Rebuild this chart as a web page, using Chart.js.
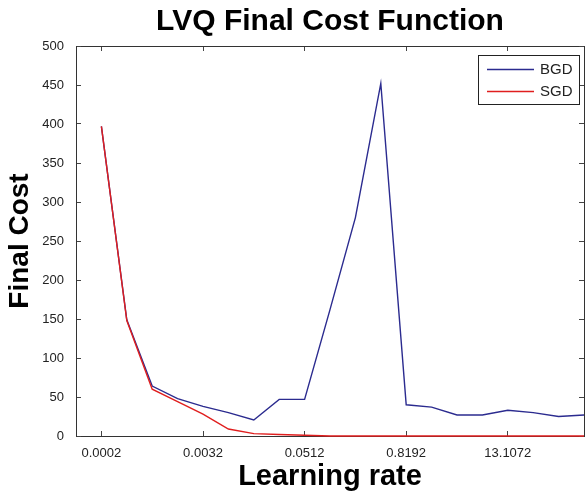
<!DOCTYPE html>
<html>
<head>
<meta charset="utf-8">
<script src="https://cdn.jsdelivr.net/npm/chart.js@4.4.0/dist/chart.umd.min.js"></script>
<style>
  html, body { margin: 0; padding: 0; background: #fff; }
</style>
</head>
<body>
<canvas id="lvq" width="586" height="491"></canvas>
<script>
// Learning rates tried (each one doubles the previous)
const learningRates = [0.0002, 0.0004, 0.0008, 0.0016, 0.0032, 0.0064, 0.0128, 0.0256,
  0.0512, 0.1024, 0.2048, 0.4096, 0.8192, 1.6384, 3.2768, 6.5536,
  13.1072, 26.2144, 52.4288, 104.8576];

// Final cost per learning rate
const bgdCost = [397, 149, 64, 48, 38, 30, 20.5, 47, 47, 162,
  280, 452, 40, 37, 27, 27, 33, 30, 25, 27];
const sgdCost = [397, 148, 60, 44, 28, 9, 3, 2, 1, 0,
  0, 0, 0, 0, 0, 0, 0, 0, 0, 0];

const xTickLabels = ['0.0002', '0.0032', '0.0512', '0.8192', '13.1072'];

const fontFamily = '"Liberation Sans", Arial, Helvetica, sans-serif';
Chart.defaults.font.family = fontFamily;

const toPoints = costs => learningRates.map((lr, i) => ({ x: lr, y: costs[i] }));
const setLogTicks = scale => { scale.ticks = xTickLabels.map(t => ({ value: parseFloat(t) })); };

// MATLAB style legend box in the top right corner of the axes
const boxLegend = {
  id: 'boxLegend',
  afterDatasetsDraw(chart) {
    const { ctx, chartArea } = chart;
    const w = 101, h = 49;
    const x = chartArea.right - 106, y = chartArea.top + 9;
    ctx.save();
    ctx.fillStyle = '#fff';
    ctx.fillRect(x, y, w, h);
    ctx.strokeStyle = '#222';
    ctx.lineWidth = 1;
    ctx.strokeRect(x + 0.5, y + 0.5, w, h);
    ctx.font = '15px ' + fontFamily;
    ctx.textBaseline = 'middle';
    chart.data.datasets.forEach((ds, i) => {
      const ly = y + 14 + i * 22;
      ctx.strokeStyle = ds.borderColor;
      ctx.lineWidth = ds.borderWidth;
      ctx.beginPath();
      ctx.moveTo(x + 9, ly + 0.5);
      ctx.lineTo(x + 56, ly + 0.5);
      ctx.stroke();
      ctx.fillStyle = '#222';
      ctx.fillText(ds.label, x + 62, ly + 1);
    });
    ctx.restore();
  }
};

const tickGrid = { drawOnChartArea: false, tickLength: -5, color: '#444', z: -1 };
const axisBorder = { color: '#333', z: -1 };

new Chart(document.getElementById('lvq'), {
  type: 'line',
  data: {
    datasets: [
      { label: 'BGD', data: toPoints(bgdCost), borderColor: '#2b2b8f', borderWidth: 1.4, pointRadius: 0, tension: 0, order: 1, clip: 3 },
      { label: 'SGD', data: toPoints(sgdCost), borderColor: '#e01e1e', borderWidth: 1.4, pointRadius: 0, tension: 0, order: 0, clip: 3 }
    ]
  },
  options: {
    responsive: false,
    animation: false,
    layout: { padding: { left: 0, right: 2, top: 0, bottom: 0 } },
    plugins: {
      legend: { display: false },
      tooltip: { enabled: false },
      title: {
        display: true,
        text: 'LVQ Final Cost Function',
        fullSize: false,
        color: '#000',
        font: { size: 30, weight: 'bold', lineHeight: 1 },
        padding: { top: 7, bottom: 9 }
      }
    },
    scales: {
      x: {
        type: 'logarithmic',
        position: 'bottom',
        min: 0.0001,
        max: 104.8576,
        afterBuildTicks: setLogTicks,
        afterFit: s => { s.height = 55; },
        ticks: {
          callback: (v, i) => xTickLabels[i],
          color: '#222', font: { size: 13 }, padding: 15, maxRotation: 0, autoSkip: false
        },
        grid: tickGrid,
        border: axisBorder,
        title: {
          display: true, text: 'Learning rate', color: '#000',
          font: { size: 29, weight: 'bold', lineHeight: 1 },
          padding: { top: 0, bottom: 0 }
        }
      },
      x2: {
        type: 'logarithmic',
        position: 'top',
        min: 0.0001,
        max: 104.8576,
        afterBuildTicks: setLogTicks,
        afterFit: s => { s.height = 0; },
        ticks: { display: false },
        grid: tickGrid,
        border: axisBorder
      },
      y: {
        min: 0,
        max: 500,
        afterFit: s => { s.width = 76; },
        ticks: { stepSize: 50, padding: 17, color: '#222', font: { size: 13 } },
        grid: tickGrid,
        border: axisBorder,
        title: {
          display: true, text: 'Final Cost', color: '#000',
          font: { size: 28, weight: 'bold', lineHeight: 1 },
          padding: { top: 6, bottom: 0 }
        }
      },
      y2: {
        position: 'right',
        min: 0,
        max: 500,
        afterFit: s => { s.width = 0; },
        ticks: { display: false, stepSize: 50 },
        grid: tickGrid,
        border: axisBorder
      }
    }
  },
  plugins: [boxLegend]
});
</script>
</body>
</html>
